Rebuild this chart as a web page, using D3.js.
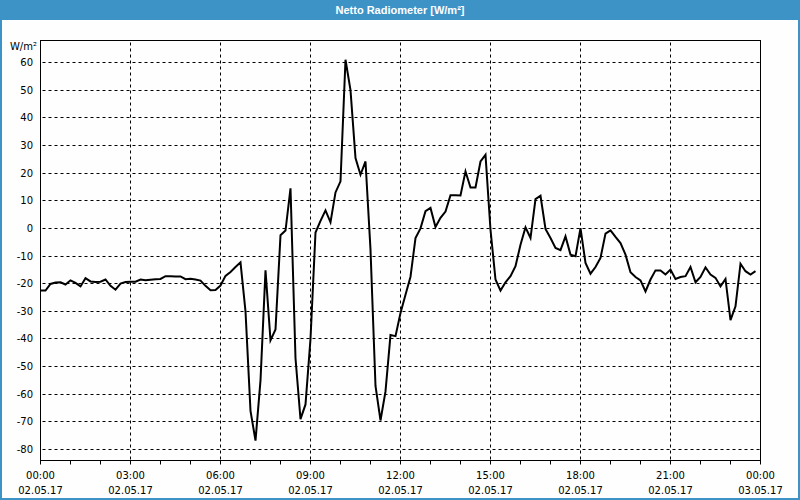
<!DOCTYPE html>
<html><head><meta charset="utf-8">
<script src="https://cdn.jsdelivr.net/npm/d3@7"></script>
<style>body{margin:0;background:#fff}svg{display:block}</style>
</head><body><svg id="c" width="800" height="500"></svg>
<script>
const title = "Netto Radiometer [W/m²]";
const unit = "W/m²";
const day = "02.05.17";
const times = [
"00:00","00:10","00:20","00:30","00:40","00:50",
"01:00","01:10","01:20","01:30","01:40","01:50",
"02:00","02:10","02:20","02:30","02:40","02:50",
"03:00","03:10","03:20","03:30","03:40","03:50",
"04:00","04:10","04:20","04:30","04:40","04:50",
"05:00","05:10","05:20","05:30","05:40","05:50",
"06:00","06:10","06:20","06:30","06:40","06:50",
"07:00","07:10","07:20","07:30","07:40","07:50",
"08:00","08:10","08:20","08:30","08:40","08:50",
"09:00","09:10","09:20","09:30","09:40","09:50",
"10:00","10:10","10:20","10:30","10:40","10:50",
"11:00","11:10","11:20","11:30","11:40","11:50",
"12:00","12:10","12:20","12:30","12:40","12:50",
"13:00","13:10","13:20","13:30","13:40","13:50",
"14:00","14:10","14:20","14:30","14:40","14:50",
"15:00","15:10","15:20","15:30","15:40","15:50",
"16:00","16:10","16:20","16:30","16:40","16:50",
"17:00","17:10","17:20","17:30","17:40","17:50",
"18:00","18:10","18:20","18:30","18:40","18:50",
"19:00","19:10","19:20","19:30","19:40","19:50",
"20:00","20:10","20:20","20:30","20:40","20:50",
"21:00","21:10","21:20","21:30","21:40","21:50",
"22:00","22:10","22:20","22:30","22:40","22:50",
"23:00","23:10","23:20","23:30","23:40","23:50"
];
const values = [
-22.5,-22.5,-20.1,-19.6,-19.5,-20.3,
-18.8,-19.7,-21,-18,-19.2,-19.4,
-19.3,-18.5,-20.8,-22.2,-20,-19.4,
-19.3,-19.3,-18.5,-18.8,-18.6,-18.4,
-18.3,-17.3,-17.3,-17.4,-17.4,-18.4,
-18.2,-18.5,-18.9,-20.8,-22.4,-22.3,
-20.7,-17.2,-15.8,-14,-12.3,-30,
-66,-76.8,-55,-15.2,-40.5,-36.6,
-2.5,-0.8,14.5,-47,-69,-63.7,
-40,-1.5,2.7,6.5,2.2,13,
17,61,50,25.4,19.4,24.2,
-7.7,-57,-69.5,-59,-38.6,-39,
-30.6,-24,-17.5,-3.5,0,6.2,
7.4,0.5,3.8,6.1,12,12,
11.9,20.6,14.8,14.8,24.2,26.6,
-0.5,-18.5,-22.5,-19.5,-17.3,-13.7,
-5.9,0.4,-3.5,10.6,11.8,-0.2,
-3.5,-7.1,-7.9,-2.9,-9.5,-10.1,
0.1,-12.5,-16.4,-14,-10.7,-1.9,
-0.7,-3.1,-5.3,-9.5,-15.9,-17.6,
-18.8,-22.8,-18.5,-15.2,-15.2,-16.7,
-14.9,-18.3,-17.6,-17.3,-14,-19.5,
-17.6,-14.1,-16.7,-17.9,-21,-18.3,
-33.2,-28.2,-12.8,-15.5,-16.7,-15.5
];
const yTicks = [-80,-70,-60,-50,-40,-30,-20,-10,0,10,20,30,40,50,60];
const xTickTimes = ["00:00","03:00","06:00","09:00","12:00","15:00","18:00","21:00","00:00"];
const xTickDates = ["02.05.17","02.05.17","02.05.17","02.05.17","02.05.17","02.05.17","02.05.17","02.05.17","03.05.17"];

const parse = d3.timeParse("%d.%m.%y %H:%M");
const data = times.map((t,i)=>({t:parse(day+" "+t), v:values[i]}));
const t0 = parse(xTickDates[0]+" "+xTickTimes[0]);
const t1 = parse(xTickDates[xTickDates.length-1]+" "+xTickTimes[xTickTimes.length-1]);

const L=40.5, R=760.5, T=40.5, B=460.5;
const x = d3.scaleTime().domain([t0,t1]).range([L,R]);
const y = d3.scaleLinear().domain([-83.98,67.96]).range([B,T]);
const cr = v => Math.round(v-0.5)+0.5;

const svg = d3.select("#c");
const blue = "#3d93c6";
svg.append("rect").attr("width",800).attr("height",500).attr("fill","#fdfefd");
svg.append("rect").attr("x",0).attr("y",0).attr("width",800).attr("height",20).attr("fill",blue);
svg.append("rect").attr("x",1).attr("y",1).attr("width",798).attr("height",498)
  .attr("fill","none").attr("stroke",blue).attr("stroke-width",2);
svg.append("text").attr("x",400).attr("y",14).attr("text-anchor","middle")
  .attr("fill","#fff").attr("font-family","Liberation Sans, Arial, sans-serif")
  .attr("font-weight","bold").attr("font-size",11).text(title);

const font = "DejaVu Sans, Verdana, sans-serif";
// horizontal grid
const g = svg.append("g");
yTicks.forEach(v=>{
  const yy = cr(y(v));
  g.append("line").attr("x1",L).attr("x2",R).attr("y1",yy).attr("y2",yy)
   .attr("stroke","#000").attr("stroke-width",1).attr("stroke-dasharray","3,3").attr("stroke-dashoffset",-2);
  g.append("text").attr("x",33).attr("y",yy).attr("dy","0.36em").attr("text-anchor","end")
   .attr("font-family",font).attr("font-size",10).attr("fill","#000").text(v);
});
// vertical grid + labels
xTickTimes.forEach((tt,i)=>{
  const d = parse(xTickDates[i]+" "+tt);
  const xx = cr(x(d));
  if(i>0 && i<xTickTimes.length-1){
    g.append("line").attr("x1",xx).attr("x2",xx).attr("y1",T).attr("y2",B)
     .attr("stroke","#000").attr("stroke-width",1).attr("stroke-dasharray","3,3").attr("stroke-dashoffset",-2);
  }
  g.append("text").attr("x",xx).attr("y",479).attr("text-anchor","middle")
   .attr("font-family",font).attr("font-size",10).attr("fill","#000").text(tt);
  g.append("text").attr("x",xx).attr("y",494).attr("text-anchor","middle")
   .attr("font-family",font).attr("font-size",10).attr("fill","#000").text(xTickDates[i]);
});
// hourly ticks
x.ticks(d3.timeHour.every(1)).forEach(d=>{
  const xx = cr(x(d));
  g.append("line").attr("x1",xx).attr("x2",xx).attr("y1",B).attr("y2",B+4)
   .attr("stroke","#000").attr("stroke-width",1);
});
// frame
svg.append("rect").attr("x",L).attr("y",T).attr("width",R-L).attr("height",B-T)
  .attr("fill","none").attr("stroke","#000").attr("stroke-width",1);
svg.append("text").attr("x",37).attr("y",50).attr("text-anchor","end")
  .attr("font-family",font).attr("font-size",10).attr("fill","#000").text(unit);

svg.append("defs").append("clipPath").attr("id","clip").append("rect")
  .attr("x",L).attr("y",T).attr("width",R-L).attr("height",B-T);
svg.append("path").datum(data).attr("clip-path","url(#clip)")
  .attr("fill","none").attr("stroke","#000").attr("stroke-width",2)
  .attr("d", d3.line().x(d=>x(d.t)).y(d=>y(d.v)));
</script></body></html>
